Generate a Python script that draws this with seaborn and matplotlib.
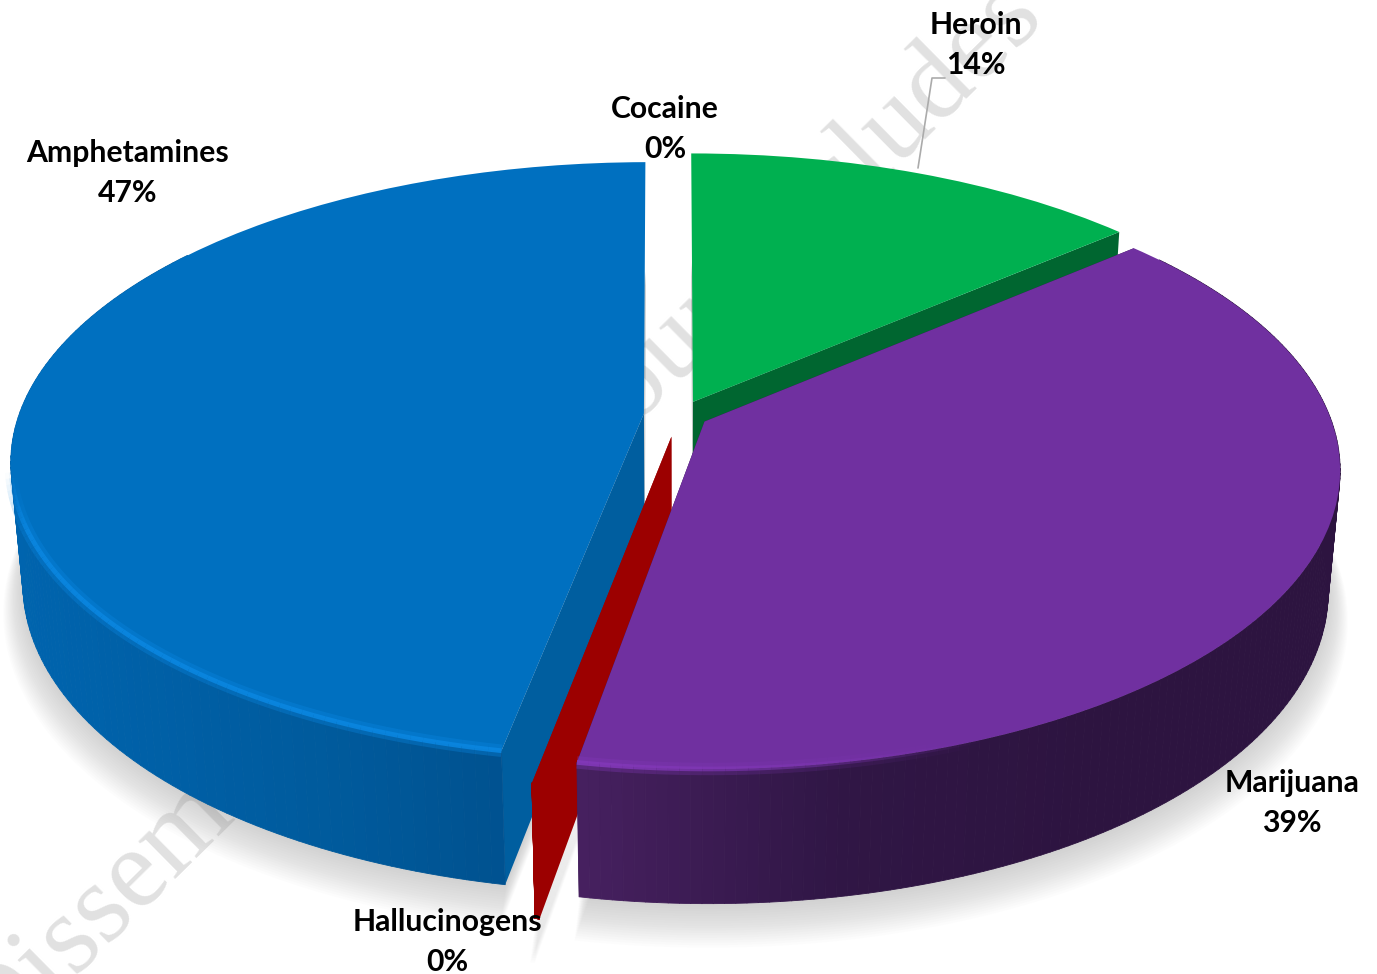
import numpy as np
import seaborn as sns
import matplotlib.pyplot as plt
from matplotlib.collections import LineCollection, PolyCollection
from matplotlib.colors import to_rgba
from matplotlib.transforms import Transform

# clockwise from 12 o'clock
drugs = ["Heroin", "Marijuana", "Hallucinogens", "Amphetamines", "Cocaine"]
shares = [13.7, 39.15, 0.1, 46.95, 0.1]

explode = [0.05, 0.045, 0.075, 0.058, 0.0]
top_colors = ["#00B050", "#7030A0", "#9C0000", "#0070C0", "#FFFFFF"]
cut_colors = ["#006630", "#2E1543", "#9C0000", "#005E9F", "#FFFFFF"]
rim_stops = {
    "Heroin": ["#006630", "#006630"],
    "Marijuana": ["#46205F", "#301645", "#2D1440", "#2D1440"],
    "Hallucinogens": ["#9C0000", "#9C0000"],
    "Amphetamines": ["#0064AE", "#005A9C", "#004A85"],
}
label_xy = {
    "Heroin": (976, 45),
    "Marijuana": (1292, 803),
    "Hallucinogens": (447, 942),
    "Amphetamines": (128, 173),
    "Cocaine": (665, 129),
}

# picture-plane model of the tilted disc, in pixels
X0, Y0 = 680.0, 415.0
BX, CY, DZ = 625.0, 291.0, 122.0
K, M = 0.156, 0.018


def project(u, v, z=0.0):
    w = 1 + K * np.asarray(v) + M * np.asarray(z)
    return X0 + BX * np.asarray(u) / w, Y0 + (-CY * np.asarray(v) + DZ * np.asarray(z)) / w


class TiltTransform(Transform):
    input_dims = output_dims = 2
    has_inverse = False

    def transform_non_affine(self, values):
        px, py = project(values[:, 0], values[:, 1])
        return np.column_stack([px, py])


def rim_points(wedge, n=160):
    phi = np.radians(np.linspace(wedge.theta1, wedge.theta2, n))
    return wedge.center[0] + wedge.r * np.cos(phi), wedge.center[1] + wedge.r * np.sin(phi)


sns.set_theme(style="white")
plt.rcParams["font.family"] = ["Lato", "DejaVu Sans"]

fig = plt.figure(figsize=(13.77, 9.74), dpi=100)
ax = fig.add_axes([0, 0, 1, 1])

wedges, _ = ax.pie(shares, explode=explode, colors=top_colors, startangle=90,
                   counterclock=False, radius=1.0, wedgeprops={"linewidth": 0, "edgecolor": "none"})
ax.set_aspect("auto")
ax.set_xlim(0, 1377)
ax.set_ylim(974, 0)
ax.axis("off")

ax.text(-6, 1058, "Dissemination to group includes", family="Liberation Serif", fontsize=82,
        color="#E1E1E1", rotation=44.6, rotation_mode="anchor", ha="left", va="baseline", zorder=0)

tilt = TiltTransform() + ax.transData

# back to front
draw_order = [0, 3, 2, 1]
level = 2
for i in draw_order:
    wedge, name = wedges[i], drugs[i]
    u, v = rim_points(wedge)
    cx, cy = wedge.center

    # soft shadow below the slice
    for grow, drop in zip(np.linspace(1.035, 1.0, 18), np.linspace(1.22, 1.02, 18)):
        su, sv = cx + (u - cx) * grow, cy + (v - cy) * grow
        sx, sy = project(np.r_[cx, su], np.r_[cy, sv], drop)
        ax.fill(sx, sy, color="#808080", alpha=0.018, lw=0, zorder=1)

    # cut faces, the one running to the back stays hidden
    apex_x, apex_y = project(cx, cy, 0.0)
    base_x, base_y = project(cx, cy, 1.0)
    for a in [0, -1]:
        if v[a] - cy > 0.9:
            continue
        tx, ty = project(u[a], v[a], 0.0)
        bx, by = project(u[a], v[a], 1.0)
        ax.fill([apex_x, tx, bx, base_x], [apex_y, ty, by, base_y],
                color=cut_colors[i], lw=0, zorder=level)

    # outer wall, shaded along the arc; the far part is behind the top face
    x_top, y_top = project(u, v, 0.0)
    x_low, y_low = project(u, v, 1.0)
    near = [n for n in range(len(u) - 1) if v[n] - cy < 0.6]
    quads = [[(x_top[n], y_top[n]), (x_top[n + 1], y_top[n + 1]),
              (x_low[n + 1], y_low[n + 1]), (x_low[n], y_low[n])] for n in near]
    shades = sns.blend_palette(rim_stops[name], 256)
    pick = (x_top[near] - x_top.min()) / (np.ptp(x_top) + 1e-6)
    colors = [shades[int(p * 255)] for p in pick]
    ax.add_collection(PolyCollection(quads, facecolors=colors, edgecolors=colors, linewidths=0.6,
                                     zorder=level + 1))

    # top face from the pie itself
    wedge.set_transform(tilt)
    wedge.set_zorder(level + 2)

    # bright bevel along the near edge
    segs = np.stack([np.column_stack([x_top[:-1], y_top[:-1]]),
                     np.column_stack([x_top[1:], y_top[1:]])], axis=1)
    if name == "Amphetamines":
        strength = np.clip((y_top[:-1] - 470) / 60, 0, 1)
        glow = "#0A86E0"
    elif name == "Marijuana":
        strength = np.clip((980 - x_top[:-1]) / 380, 0, 1)
        glow = "#8238B8"
    else:
        strength = np.zeros(len(segs))
        glow = "#FFFFFF"
    base = np.tile(to_rgba(glow), (len(segs), 1))
    soft, sharp = base.copy(), base.copy()
    soft[:, 3] = 0.35 * strength
    sharp[:, 3] = 0.9 * strength
    ax.add_collection(LineCollection(segs, colors=soft, linewidths=9, zorder=level + 3, capstyle="butt"))
    ax.add_collection(LineCollection(segs, colors=sharp, linewidths=3.4, zorder=level + 3, capstyle="butt"))
    level += 5

# the Cocaine sliver leaves only its label
wedges[4].set_visible(False)

for name, share in zip(drugs, shares):
    x, y = label_xy[name]
    ax.text(x, y, f"{name}\n{round(share)}%", ha="center", va="center", fontsize=21.7,
            fontweight="bold", color="black", linespacing=1.52, zorder=60)

ax.plot([945, 932, 918], [78, 78, 168], color="#ABABAB", lw=1.2, zorder=59)

fig.savefig("out.png", dpi=100)
